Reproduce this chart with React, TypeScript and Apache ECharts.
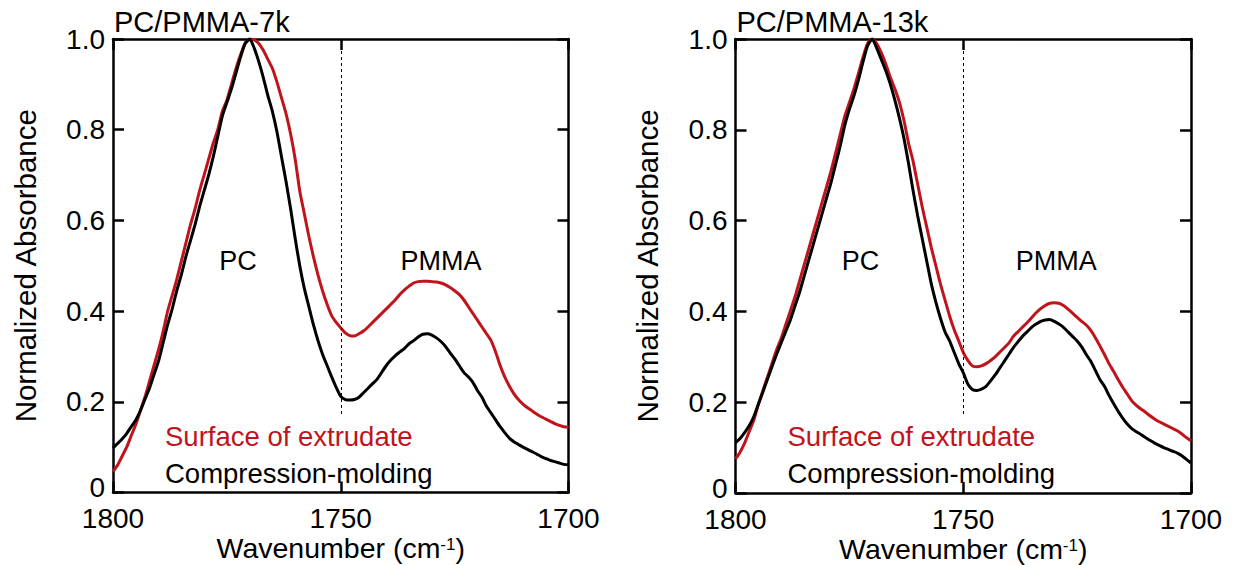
import React, { useEffect, useRef } from "react";
import * as echarts from "echarts";

// Wavenumber grid (cm-1), shared by every curve
const wavenumbers = [
  1800, 1799, 1798, 1797, 1796, 1795, 1794, 1793, 1792, 1791,
  1790, 1789, 1788, 1787, 1786, 1785, 1784, 1783, 1782, 1781,
  1780, 1779, 1778, 1777, 1776, 1775, 1774, 1773, 1772, 1771,
  1770, 1769, 1768, 1767, 1766, 1765, 1764, 1763, 1762, 1761,
  1760, 1759, 1758, 1757, 1756, 1755, 1754, 1753, 1752, 1751,
  1750, 1749, 1748, 1747, 1746, 1745, 1744, 1743, 1742, 1741,
  1740, 1739, 1738, 1737, 1736, 1735, 1734, 1733, 1732, 1731,
  1730, 1729, 1728, 1727, 1726, 1725, 1724, 1723, 1722, 1721,
  1720, 1719, 1718, 1717, 1716, 1715, 1714, 1713, 1712, 1711,
  1710, 1709, 1708, 1707, 1706, 1705, 1704, 1703, 1702, 1701,
  1700,
];

// PC/PMMA-7k
const surface7k = [
  0.046, 0.06, 0.08, 0.1, 0.125, 0.15, 0.18, 0.21, 0.245, 0.28,
  0.315, 0.355, 0.4, 0.435, 0.47, 0.51, 0.55, 0.59, 0.625, 0.665,
  0.7, 0.735, 0.77, 0.8, 0.84, 0.865, 0.9, 0.935, 0.965, 0.99,
  1.0, 0.998, 0.99, 0.975, 0.955, 0.935, 0.905, 0.87, 0.835, 0.79,
  0.735, 0.665, 0.615, 0.565, 0.52, 0.48, 0.445, 0.415, 0.39, 0.375,
  0.363, 0.352, 0.346, 0.345, 0.35, 0.356, 0.365, 0.375, 0.385, 0.395,
  0.405, 0.415, 0.425, 0.437, 0.447, 0.455, 0.462, 0.465, 0.466, 0.466,
  0.465, 0.464, 0.462, 0.458, 0.452, 0.445, 0.437, 0.425, 0.41, 0.395,
  0.38, 0.365, 0.35, 0.335, 0.31, 0.28, 0.255, 0.235, 0.218, 0.205,
  0.195, 0.187, 0.18, 0.173, 0.167, 0.162, 0.157, 0.152, 0.148, 0.145,
  0.144,
];
const compression7k = [
  0.098, 0.108, 0.118, 0.13, 0.145, 0.16, 0.18, 0.205, 0.23, 0.26,
  0.29, 0.33, 0.37, 0.405, 0.445, 0.48, 0.52, 0.555, 0.59, 0.63,
  0.665, 0.7, 0.74, 0.785, 0.83, 0.86, 0.89, 0.925, 0.96, 0.99,
  1.0, 0.98, 0.95, 0.915, 0.875, 0.84, 0.795, 0.74, 0.685, 0.625,
  0.56, 0.5, 0.45, 0.41, 0.37, 0.335, 0.305, 0.28, 0.255, 0.232,
  0.212, 0.205, 0.204, 0.205, 0.21, 0.22, 0.23, 0.24, 0.25, 0.265,
  0.28, 0.292, 0.302, 0.31, 0.318, 0.328, 0.335, 0.343, 0.349, 0.35,
  0.347, 0.341, 0.333, 0.322, 0.308, 0.295, 0.28, 0.265, 0.255, 0.243,
  0.225, 0.21, 0.19, 0.175, 0.16, 0.145, 0.132, 0.12, 0.112, 0.106,
  0.1, 0.095, 0.09, 0.085, 0.079, 0.075, 0.071, 0.068, 0.065, 0.062,
  0.061,
];

// PC/PMMA-13k
const surface13k = [
  0.075, 0.09, 0.11, 0.135, 0.16, 0.195, 0.225, 0.255, 0.285, 0.315,
  0.34, 0.37, 0.4, 0.43, 0.465, 0.5, 0.535, 0.57, 0.605, 0.64,
  0.675, 0.71, 0.75, 0.79, 0.83, 0.86, 0.89, 0.925, 0.96, 0.99,
  1.0, 0.99, 0.97, 0.945, 0.915, 0.89, 0.86, 0.82, 0.77, 0.73,
  0.68, 0.63, 0.585, 0.54, 0.5, 0.46, 0.425, 0.39, 0.36, 0.335,
  0.31, 0.292, 0.28, 0.278, 0.28, 0.285, 0.292, 0.3, 0.31, 0.32,
  0.33, 0.345, 0.355, 0.365, 0.375, 0.386, 0.397, 0.406, 0.413, 0.418,
  0.419, 0.418, 0.413, 0.405, 0.396, 0.387, 0.378, 0.37, 0.358, 0.342,
  0.324, 0.305, 0.285, 0.268, 0.25, 0.233, 0.218, 0.203, 0.193, 0.185,
  0.178, 0.17, 0.163, 0.157, 0.152, 0.147, 0.142, 0.137, 0.13, 0.122,
  0.115,
];
const compression13k = [
  0.111, 0.12, 0.133, 0.148, 0.168, 0.195, 0.222, 0.25, 0.278, 0.305,
  0.33, 0.355, 0.38, 0.41, 0.44, 0.475, 0.51, 0.545, 0.58, 0.615,
  0.65, 0.685, 0.725, 0.765, 0.81, 0.845, 0.875, 0.91, 0.95, 0.985,
  1.0, 0.98, 0.955, 0.93, 0.9, 0.865, 0.825, 0.78, 0.725, 0.665,
  0.61, 0.56, 0.51, 0.46, 0.42, 0.385, 0.355, 0.335, 0.31, 0.285,
  0.265, 0.24, 0.228, 0.226, 0.229, 0.235, 0.247, 0.26, 0.275, 0.29,
  0.305, 0.32, 0.333, 0.345, 0.355, 0.365, 0.372, 0.378, 0.381, 0.382,
  0.378, 0.372, 0.365, 0.355, 0.345, 0.335, 0.322, 0.305, 0.29, 0.27,
  0.25, 0.235, 0.215, 0.197, 0.18, 0.165, 0.152, 0.142, 0.135, 0.129,
  0.122, 0.116, 0.11, 0.105, 0.1, 0.096, 0.092, 0.088, 0.082, 0.074,
  0.066,
];

const panelTitles = ["PC/PMMA-7k", "PC/PMMA-13k"];
const seriesNames = ["Surface of extrudate", "Compression-molding"];
const peakLabels = ["PC", "PMMA"];
const dividerWavenumber = 1750;
const dividerRange = [0.17, 1.0];

const RED = "#c0141c";
const FONT = "'Liberation Sans', Arial, Helvetica, sans-serif";

export default function App() {
  const ref = useRef<HTMLDivElement>(null);

  useEffect(() => {
    const chart = echarts.init(ref.current!, null, { renderer: "svg" });

    const grids = [
      { left: 113, top: 39, width: 455.5, height: 453.5, outerBoundsMode: "none", containLabel: false },
      { left: 735.5, top: 39, width: 455.5, height: 454, outerBoundsMode: "none", containLabel: false },
    ];
    const panels = [
      { surface: surface7k, compression: compression7k },
      { surface: surface13k, compression: compression13k },
    ];

    const axisLine = { show: true, onZero: false, lineStyle: { color: "#000", width: 2.5 } };
    const axisTick = { show: true, inside: true, length: 11, lineStyle: { color: "#000", width: 2.5 } };
    const labelStyle = { fontFamily: FONT, fontSize: 28, lineHeight: 24, color: "#000" };

    const xAxis: any[] = [];
    const yAxis: any[] = [];
    const series: any[] = [];

    grids.forEach((_, p) => {
      xAxis.push({
        gridIndex: p,
        type: "value",
        position: "bottom",
        min: 1700,
        max: 1800,
        interval: 50,
        inverse: true,
        axisLine,
        axisTick,
        splitLine: { show: false },
        axisLabel: { ...labelStyle, margin: 14, formatter: (v: number) => String(v) },
        name: "Wavenumber (cm{sup|-1})",
        nameLocation: "middle",
        nameGap: 43.5,
        nameMoveOverlap: false,
        nameTextStyle: {
          fontFamily: FONT,
          fontSize: 28.5,
          lineHeight: 24,
          color: "#000",
          rich: { sup: { fontFamily: FONT, fontSize: 17, lineHeight: 17, color: "#000", verticalAlign: "top", padding: [0, 0, 7, 0] } },
        },
      });
      xAxis.push({
        gridIndex: p,
        type: "value",
        position: "top",
        min: 1700,
        max: 1800,
        interval: 50,
        inverse: true,
        axisLine,
        axisTick,
        splitLine: { show: false },
        axisLabel: { show: false },
      });
      yAxis.push({
        gridIndex: p,
        type: "value",
        position: "left",
        min: 0,
        max: 1,
        interval: 0.2,
        axisLine,
        axisTick,
        splitLine: { show: false },
        axisLabel: {
          ...labelStyle,
          margin: 8,
          formatter: (v: number) => (v === 0 ? "{z|0}" : v.toFixed(1)),
          rich: { z: { fontFamily: FONT, fontSize: 28, lineHeight: 24, color: "#000", padding: [0, 0, 10, 0] } },
        },
        name: "Normalized Absorbance",
        nameLocation: "middle",
        nameGap: 73,
        nameMoveOverlap: false,
        nameRotate: 90,
        nameTextStyle: { fontFamily: FONT, fontSize: 29.5, color: "#000" },
      });
      yAxis.push({
        gridIndex: p,
        type: "value",
        position: "right",
        min: 0,
        max: 1,
        interval: 0.2,
        axisLine,
        axisTick,
        splitLine: { show: false },
        axisLabel: { show: false },
      });

      const d = panels[p];
      series.push({
        name: seriesNames[0],
        type: "line",
        xAxisIndex: 2 * p,
        yAxisIndex: 2 * p,
        data: wavenumbers.map((w, i) => [w, d.surface[i]]),
        showSymbol: false,
        smooth: 0.2,
        silent: true,
        lineStyle: { color: RED, width: 3 },
        itemStyle: { color: RED },
        z: 2,
      });
      series.push({
        name: seriesNames[1],
        type: "line",
        xAxisIndex: 2 * p,
        yAxisIndex: 2 * p,
        data: wavenumbers.map((w, i) => [w, d.compression[i]]),
        showSymbol: false,
        smooth: 0.2,
        silent: true,
        lineStyle: { color: "#000", width: 3 },
        itemStyle: { color: "#000" },
        z: 3,
        markLine: {
          silent: true,
          symbol: ["none", "none"],
          label: { show: false },
          lineStyle: { color: "#000", width: 1, type: [3, 3] },
          data: [
            [
              { coord: [dividerWavenumber, dividerRange[1]] },
              { coord: [dividerWavenumber, dividerRange[0]] },
            ],
          ],
        },
      });
    });

    const textEl = (text: string, x: number, y: number, size: number, fill = "#000", align = "left") => ({
      type: "text",
      x,
      y,
      silent: true,
      style: {
        text,
        fill,
        font: `${size}px ${FONT}`,
        fontSize: size,
        fontFamily: FONT,
        textAlign: align,
        textVerticalAlign: "middle",
        verticalAlign: "middle",
        align,
      },
    });

    const offsets = [0, 622.5];
    const graphic: any[] = [];
    offsets.forEach((dx, p) => {
      graphic.push(textEl(panelTitles[p], 114 + dx, 22, 29));
      graphic.push(textEl(peakLabels[0], 238 + dx, 261, 27, "#000", "center"));
      graphic.push(textEl(peakLabels[1], 441 + dx * 0.985 + (p ? 2 : 0), 261, 27, "#000", "center"));
      graphic.push(textEl(seriesNames[0], 165 + dx, 436, 27.5, RED));
      graphic.push(textEl(seriesNames[1], 165 + dx, 473, 27.5, "#000"));
    });

    chart.setOption({
      animation: false,
      backgroundColor: "#fff",
      grid: grids,
      xAxis,
      yAxis,
      series,
      graphic,
    });

    return () => chart.dispose();
  }, []);

  return (
    <div
      ref={ref}
      style={{ position: "fixed", left: 0, top: 0, width: 1237, height: 565 }}
    />
  );
}
